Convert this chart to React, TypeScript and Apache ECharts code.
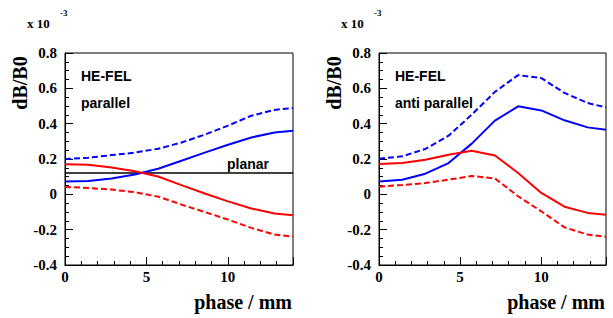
import React, { useEffect, useRef } from "react";
import * as echarts from "echarts";

const phase = [0, 1.43, 2.86, 4.29, 5.72, 7.15, 8.58, 10.01, 11.44, 12.87, 14];

// Left panel: parallel
const parBlueSolid = [0.072, 0.076, 0.09, 0.112, 0.145, 0.19, 0.236, 0.281, 0.322, 0.35, 0.36];
const parBlueDashed = [0.2, 0.207, 0.222, 0.236, 0.258, 0.293, 0.338, 0.389, 0.445, 0.478, 0.489];
const parRedSolid = [0.17, 0.168, 0.152, 0.131, 0.101, 0.052, 0.005, -0.04, -0.08, -0.108, -0.118];
const parRedDashed = [0.042, 0.036, 0.027, 0.012, -0.013, -0.058, -0.1, -0.143, -0.19, -0.228, -0.24];
const planarX = [0, 14];
const planarY = [0.121, 0.121];

// Right panel: anti parallel
const antiBlueSolid = [0.072, 0.083, 0.117, 0.177, 0.287, 0.417, 0.498, 0.475, 0.419, 0.379, 0.366];
const antiBlueDashed = [0.202, 0.215, 0.257, 0.332, 0.451, 0.58, 0.675, 0.658, 0.574, 0.517, 0.492];
const antiRedSolid = [0.172, 0.177, 0.196, 0.224, 0.247, 0.22, 0.121, 0.008, -0.07, -0.105, -0.115];
const antiRedDashed = [0.043, 0.053, 0.064, 0.083, 0.104, 0.09, -0.011, -0.096, -0.187, -0.228, -0.241];

const yMin = -0.4;
const yMax = 0.8;
const xMin = 0;
const xMax = 14;

const SERIF = "'Liberation Serif', 'Times New Roman', serif";
const SANS = "'Liberation Sans', Arial, sans-serif";

const pairs = (xs: number[], ys: number[]) => xs.map((x, i) => [x, ys[i]]);

export default function App() {
  const ref = useRef<HTMLDivElement>(null);
  useEffect(() => {
    if (!ref.current) return;
    const chart = echarts.init(ref.current, null, { renderer: "svg" });

    const grids = [
      { left: 65, top: 53, width: 228, height: 212 },
      { left: 379, top: 53, width: 227, height: 212 },
    ];

    const xAxes: any[] = [];
    const yAxes: any[] = [];
    grids.forEach((_, g) => {
      // minor x ticks + labels
      xAxes.push({
        type: "value",
        gridIndex: g,
        min: xMin,
        max: xMax,
        interval: 1,
        position: "bottom",
        axisLine: { show: true, onZero: false, lineStyle: { color: "#000", width: 1 } },
        axisTick: { show: true, inside: true, length: 4, lineStyle: { color: "#000", width: 1 } },
        splitLine: { show: false },
        axisLabel: {
          show: true,
          margin: 4,
          color: "#000",
          fontFamily: SERIF,
          fontWeight: "bold",
          fontSize: 15,
          showMaxLabel: false,
          formatter: (v: number) => (v % 5 === 0 ? String(v) : ""),
        },
      });
      // major x ticks
      xAxes.push({
        type: "value",
        gridIndex: g,
        min: xMin,
        max: xMax,
        interval: 5,
        position: "bottom",
        axisLine: { show: false, onZero: false },
        axisTick: { show: true, inside: true, length: 8, lineStyle: { color: "#000", width: 1 } },
        splitLine: { show: false },
        axisLabel: { show: false },
      });
      yAxes.push({
        type: "value",
        gridIndex: g,
        min: yMin,
        max: yMax,
        interval: 0.2,
        position: "left",
        axisLine: { show: true, onZero: false, lineStyle: { color: "#000", width: 1 } },
        axisTick: { show: true, inside: true, length: 8, lineStyle: { color: "#000", width: 1 } },
        minorTick: { show: true, splitNumber: 4, length: 4, lineStyle: { color: "#000", width: 1 } },
        splitLine: { show: false },
        minorSplitLine: { show: false },
        axisLabel: {
          show: true,
          margin: 8,
          color: "#000",
          fontFamily: SERIF,
          fontWeight: "bold",
          fontSize: 15,
          formatter: (v: number) => String(Math.round(v * 10) / 10),
        },
      });
    });

    const mk = (g: number, ys: number[], color: string, dashed: boolean, name: string) => ({
      name,
      type: "line",
      xAxisIndex: g * 2,
      yAxisIndex: g,
      data: pairs(phase, ys),
      showSymbol: false,
      symbol: "none",
      lineStyle: { color, width: 2, type: dashed ? [6, 3] : "solid" },
      z: 3,
    });

    const series: any[] = [
      {
        name: "planar",
        type: "line",
        xAxisIndex: 0,
        yAxisIndex: 0,
        data: pairs(planarX, planarY),
        symbol: "none",
        lineStyle: { color: "#000", width: 1.5 },
        z: 2,
      },
      mk(0, parBlueDashed, "#0000ff", true, "par blue dashed"),
      mk(0, parBlueSolid, "#0000ff", false, "par blue solid"),
      mk(0, parRedSolid, "#ff0000", false, "par red solid"),
      mk(0, parRedDashed, "#ff0000", true, "par red dashed"),
      mk(1, antiBlueDashed, "#0000ff", true, "anti blue dashed"),
      mk(1, antiBlueSolid, "#0000ff", false, "anti blue solid"),
      mk(1, antiRedSolid, "#ff0000", false, "anti red solid"),
      mk(1, antiRedDashed, "#ff0000", true, "anti red dashed"),
    ];

    const txt = (x: number, y: number, text: string, font: string, size: number, extra: any = {}) => ({
      type: "text",
      x,
      y,
      style: {
        text,
        fill: "#000",
        fontFamily: font,
        fontWeight: "bold",
        fontSize: size,
        align: "left",
        verticalAlign: "middle",
        ...extra,
      },
    });

    const graphic: any[] = [];
    [0, 314].forEach((dx, i) => {
      graphic.push(txt(27 + dx, 23, "x 10", SERIF, 13));
      graphic.push(txt(60 + dx, 13, "-3", SERIF, 9));
      graphic.push({
        type: "text",
        x: 20 + dx,
        y: 83,
        rotation: Math.PI / 2,
        style: {
          text: "dB/B0",
          fill: "#000",
          fontFamily: SERIF,
          fontWeight: "bold",
          fontSize: 20,
          align: "center",
          verticalAlign: "middle",
        },
      });
      graphic.push(
        txt(i === 0 ? 292 : 605, 302, "phase / mm", SERIF, 20, { align: "right", verticalAlign: "middle" })
      );
      graphic.push(txt(81 + dx, 76, "HE-FEL", SANS, 14));
      graphic.push(txt(81 + dx, 103, i === 0 ? "parallel" : "anti parallel", SANS, 14));
    });
    graphic.push(txt(227, 164, "planar", SANS, 14));

    chart.setOption({
      animation: false,
      backgroundColor: "#fff",
      grid: grids.map((g) => ({ ...g, show: true, borderColor: "#000", borderWidth: 1, backgroundColor: "transparent" })),
      xAxis: xAxes,
      yAxis: yAxes,
      series,
      graphic,
    });
    return () => chart.dispose();
  }, []);

  return (
    <div
      ref={ref}
      style={{ position: "fixed", left: 0, top: 0, width: 613, height: 318, background: "#fff" }}
    />
  );
}
